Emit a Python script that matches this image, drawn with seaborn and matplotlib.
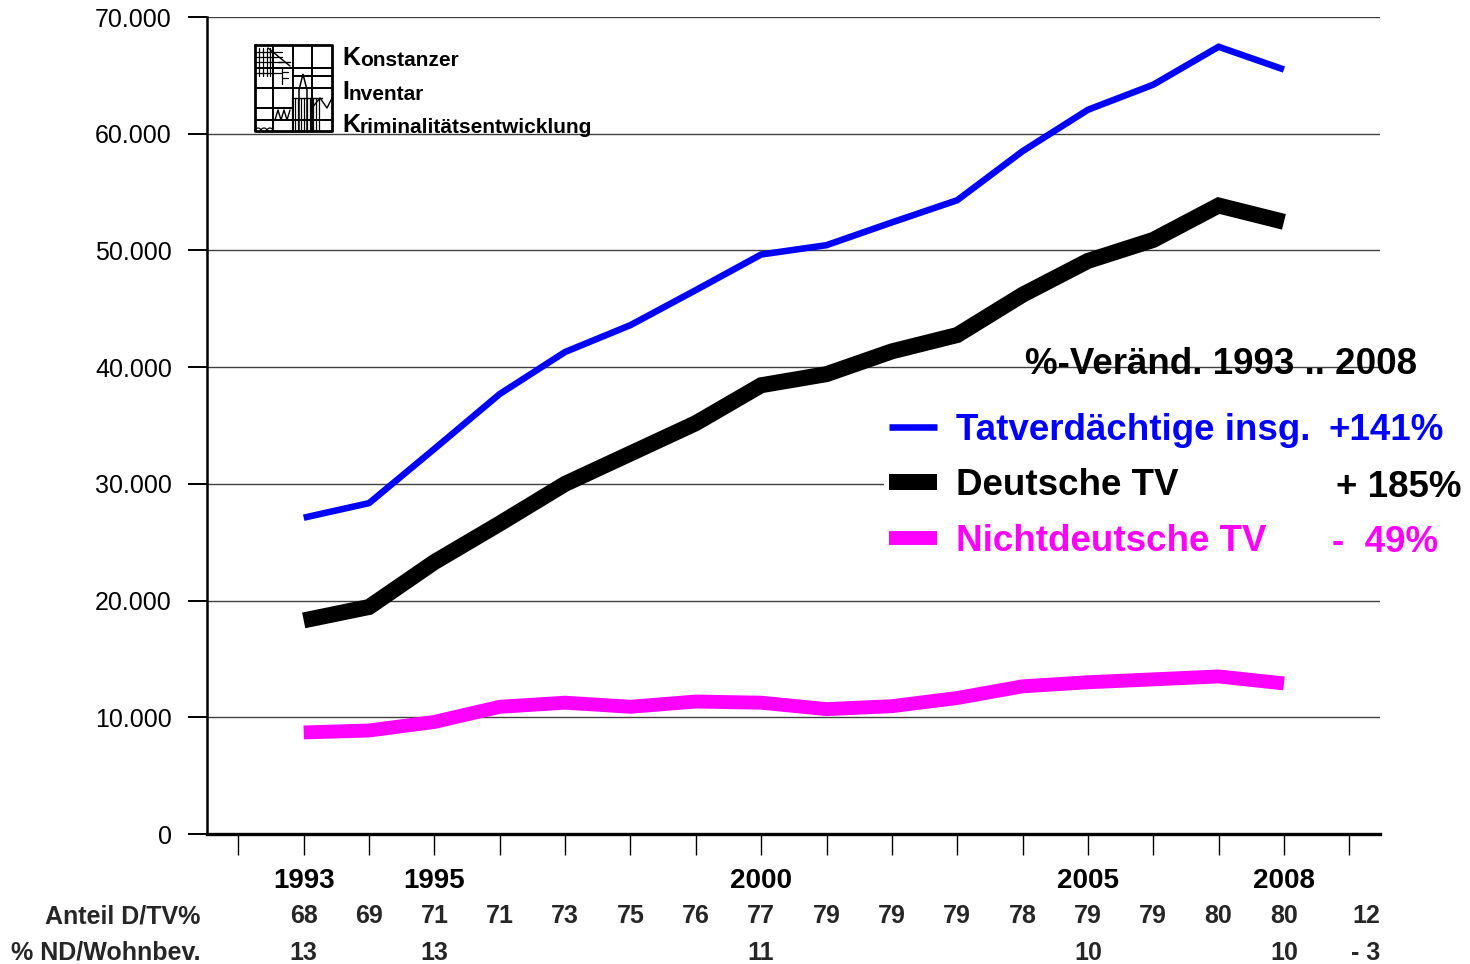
import numpy as np
import pandas as pd
import matplotlib
matplotlib.use('Agg')
import matplotlib.pyplot as plt
import seaborn as sns
from matplotlib.ticker import FuncFormatter
from matplotlib import transforms
from matplotlib.patches import Rectangle, Polygon

# ---------------- data ----------------
years = list(range(1993, 2009))
tv_insg = [27100, 28350, 33000, 37700, 41300, 43600, 46600, 49650,
           50450, 52400, 54300, 58500, 62050, 64200, 67450, 65500]
tv_deutsch = [18300, 19450, 23300, 26600, 30000, 32600, 35200, 38450,
              39400, 41350, 42750, 46200, 49100, 50900, 53850, 52450]
tv_nichtdeutsch = [8700, 8870, 9600, 10900, 11250, 10900, 11350, 11250,
                   10700, 10950, 11650, 12650, 13000, 13250, 13500, 12900]

tick_years = list(range(1992, 2010))
labeled_years = [1993, 1995, 2000, 2005, 2008]
anteil_d = [68, 69, 71, 71, 73, 75, 76, 77, 79, 79, 79, 78, 79, 79, 80, 80]
anteil_change = '12'
nd_years = [1993, 1995, 2000, 2005, 2008]
nd_share = [13, 13, 11, 10, 10]
nd_change = '- 3'
series_names = ['Tatverdächtige insg.', 'Deutsche TV', 'Nichtdeutsche TV']
series_changes = ['+141%', '+ 185%', '-  49%']
series_colors = ['#0000FF', '#000000', '#FF00FF']
heading = '%-Veränd. 1993 .. 2008'
row_labels = ['Anteil D/TV%', '% ND/Wohnbev.']
logo_lines = ['Konstanzer', 'Inventar', 'Kriminalitätsentwicklung']

df = pd.DataFrame({'Jahr': years, 'insg': tv_insg,
                   'deutsch': tv_deutsch, 'nichtdeutsch': tv_nichtdeutsch})

# ---------------- style ----------------
sns.set_theme(style='white')
plt.rcParams['font.family'] = ['Liberation Sans', 'DejaVu Sans']

W, H = 1470, 964
fig = plt.figure(figsize=(W / 100, H / 100), dpi=100)
fig.patch.set_facecolor('white')


def fx(px):
    return px / W


def fy(py):
    return 1 - py / H


ax = fig.add_axes([fx(207), fy(834), (1380 - 207) / W, (834 - 17) / H])
ax.set_facecolor('white')

widths = [4.7, 11.5, 10.0]
for col, c, lw, name in zip(['insg', 'deutsch', 'nichtdeutsch'], series_colors, widths, series_names):
    sns.lineplot(data=df, x='Jahr', y=col, ax=ax, color=c, linewidth=lw,
                 solid_capstyle='butt', solid_joinstyle='miter', zorder=3,
                 label=name)

ax.set_xlim(1991.52, 2009.47)
ax.set_ylim(0, 70000)
ax.set_yticks(np.arange(0, 70001, 10000))
ax.yaxis.set_major_formatter(FuncFormatter(lambda v, p: f"{int(v):,}".replace(',', '.')))
ax.set_xticks(tick_years)
ax.set_xticklabels([str(y) if y in labeled_years else '' for y in tick_years])
for lab in ax.get_xticklabels():
    lab.set_fontweight('bold')

ax.set_xlabel('')
ax.set_ylabel('')
ax.set_axisbelow(True)
ax.yaxis.grid(True, color='#404040', linewidth=1.0)
ax.xaxis.grid(False)
for s in ['top', 'right']:
    ax.spines[s].set_visible(False)
ax.spines['left'].set_color('black')
ax.spines['left'].set_linewidth(1.8)
ax.spines['bottom'].set_color('black')
ax.spines['bottom'].set_linewidth(2.4)

ax.tick_params(axis='y', left=True, direction='out', length=13.7, width=1.4,
               pad=11.5, labelsize=18, colors='black')
ax.tick_params(axis='x', bottom=True, direction='out', length=15, width=1.0,
               pad=9.5, labelsize=20, colors='black')

# ---------------- legend ----------------
ax.add_artist(Rectangle((fx(884), fy(575)), fx(1385) - fx(884), fy(400) - fy(575),
                        transform=fig.transFigure, facecolor='white',
                        edgecolor='none', zorder=1.5, clip_on=False))
handles = ax.get_lines()[:3]
leg = ax.legend(handles, series_names, loc='upper left',
                bbox_to_anchor=(fx(885), fy(409)), bbox_transform=fig.transFigure,
                frameon=False, prop={'size': 26.5, 'weight': 'bold'},
                handlelength=1.3, handletextpad=0.52, labelspacing=0.56,
                borderpad=0.1, borderaxespad=0)
for t, c in zip(leg.get_texts(), series_colors):
    t.set_color(c)

fig.text(fx(1025), fy(374), heading, ha='left', va='baseline',
         size=26.5, weight='bold', color='black')
for txt, c, xp, yp in zip(series_changes, series_colors, [1328, 1336, 1332], [440, 497, 552]):
    fig.text(fx(xp), fy(yp), txt, ha='left', va='baseline', size=26.5,
             weight='bold', color=c)

# ---------------- bottom rows ----------------
trans_d = transforms.blended_transform_factory(ax.transData, fig.transFigure)
trans_a = transforms.blended_transform_factory(ax.transAxes, fig.transFigure)
for yr, v in zip(years, anteil_d):
    ax.text(yr, fy(923), str(v), transform=trans_d, ha='center', va='baseline',
            size=18, weight='bold', clip_on=False)
ax.text(1.0, fy(923), anteil_change, transform=trans_a, ha='right', va='baseline',
        size=18, weight='bold', clip_on=False)
for yr, v in zip(nd_years, nd_share):
    ax.text(yr, fy(960), str(v), transform=trans_d, ha='center', va='baseline',
            size=18, weight='bold', clip_on=False)
ax.text(1.0, fy(960), nd_change, transform=trans_a, ha='right', va='baseline',
        size=18, weight='bold', clip_on=False)
fig.text(fx(200), fy(923), row_labels[0], ha='right', va='baseline', size=18, weight='bold')
fig.text(fx(200), fy(960), row_labels[1], ha='right', va='baseline', size=18, weight='bold')

# ---------------- logo ----------------
lax = fig.add_axes([fx(253), fy(133), (334 - 253) / W, (133 - 43) / H])
lax.set_xlim(253, 334)
lax.set_ylim(133, 43)
lax.axis('off')
k = dict(color='black', lw=1.4, solid_capstyle='butt')
lax.plot([255, 332, 332, 255, 255], [45, 45, 131, 131, 45], color='black', lw=2)
for xv in [273, 293, 312]:
    lax.plot([xv, xv], [45, 131], **k)
lax.plot([255, 332], [68, 68], **k)
lax.plot([255, 332], [88, 88], **k)
lax.plot([255, 293], [108, 108], **k)
lax.plot([255, 332], [120, 120], **k)
lax.plot([293, 332], [76, 76], **k)
for xv in [259, 263, 267, 270]:
    lax.plot([xv, xv], [48, 76], color='black', lw=0.9)
for yv in [52, 57, 62, 73]:
    lax.plot([255, 282], [yv, yv], color='black', lw=0.9)
lax.plot([268, 290], [48, 66], color='black', lw=1.0)
lax.plot([278, 290], [62, 62], color='black', lw=1.0)
lax.plot([282, 282], [68, 84], color='black', lw=0.9)
lax.plot([283, 288], [72, 72], color='black', lw=0.9)
lax.plot([283, 288], [78, 78], color='black', lw=0.9)
lax.add_patch(Polygon([[299, 131], [299, 90], [303, 74], [307, 90], [307, 131]],
                      closed=True, facecolor='white', edgecolor='black', lw=1.1))
for xv in [292, 295, 298, 301, 304, 307, 310, 313, 316, 319]:
    lax.plot([xv, xv], [98, 131], color='black', lw=0.9)
lax.plot([292, 322], [98, 98], color='black', lw=1.0)
lax.plot([312, 320, 327, 332], [108, 98, 108, 98], color='black', lw=1.0)
lax.plot([275, 278, 281, 284, 287, 290], [120, 110, 120, 110, 120, 110], color='black', lw=1.0)
for xc in [258, 264, 270]:
    th = np.linspace(0, np.pi, 20)
    lax.plot(xc + 3 * np.cos(th), 131 - 3 * np.sin(th), color='black', lw=0.9)

baselines = [65, 99, 132]
for txt, yb in zip(logo_lines, baselines):
    kt = fig.text(fx(342), fy(yb), txt[0], ha='left', va='baseline', size=18,
                  weight='bold', color='black')
    ax.annotate(txt[1:], xy=(1, 0), xycoords=kt, ha='left', va='bottom',
                size=15, weight='bold', color='black', annotation_clip=False)

fig.savefig('out.png', dpi=100, facecolor='white')
